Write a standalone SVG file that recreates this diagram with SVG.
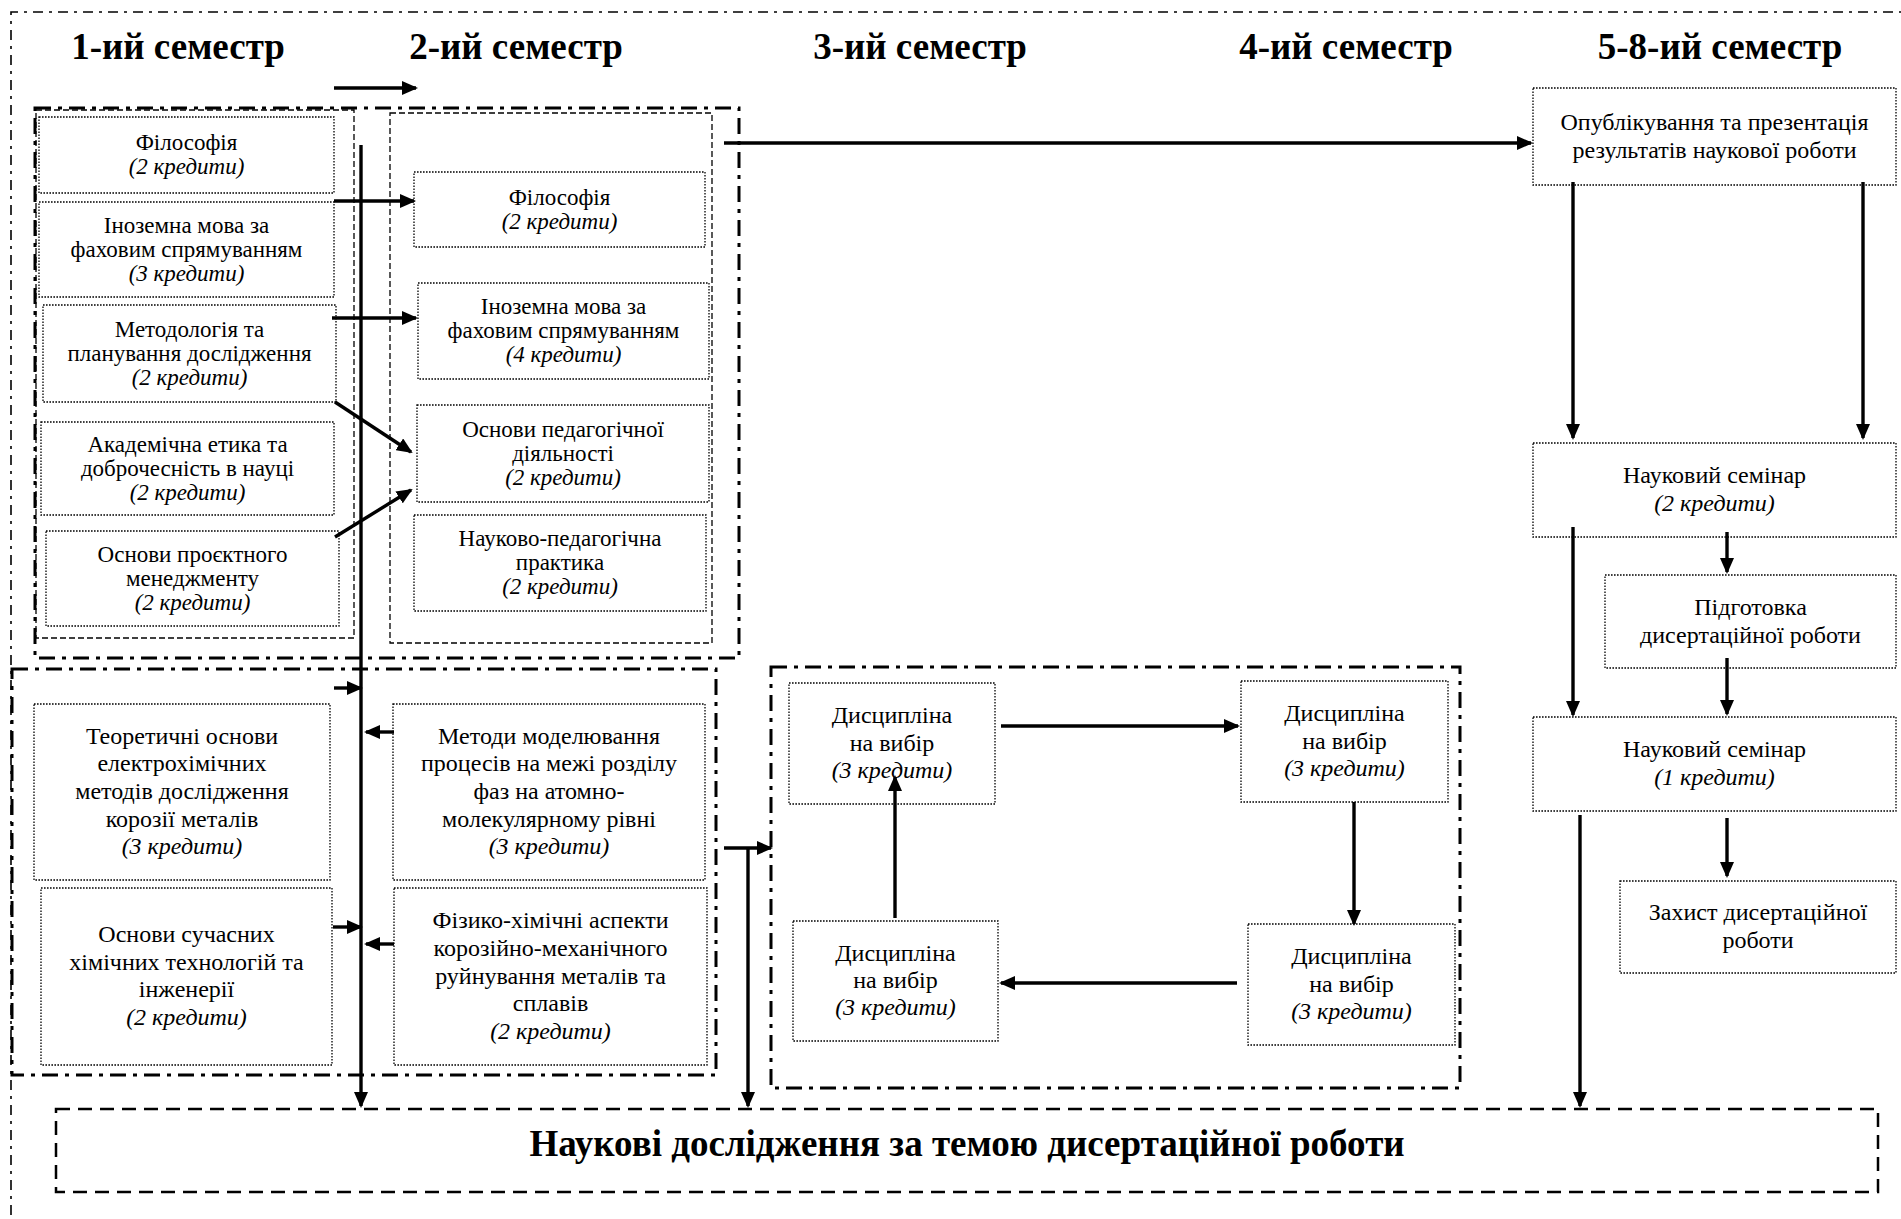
<svg xmlns="http://www.w3.org/2000/svg" width="1901" height="1219" viewBox="0 0 1901 1219">
<defs>
<marker id="ah" markerUnits="userSpaceOnUse" markerWidth="16" markerHeight="14" refX="14" refY="7" orient="auto">
<path d="M0,0 L16,7 L0,14 Z" fill="#000"/>
</marker>
<style>
text{font-family:"Liberation Serif","Times New Roman",serif;fill:#000;text-anchor:middle}
.t{font-size:23px}
.lw{font-size:24px}
.i{font-style:italic}
.h{font-size:37px;font-weight:bold}
.node{fill:#fff;stroke:#000;stroke-width:1.3;stroke-dasharray:1.6 1.4}
.col{fill:none;stroke:#000;stroke-width:1.3;stroke-dasharray:6 3}
.grp{fill:none;stroke:#000;stroke-width:3;stroke-dasharray:16 7 4 7}
.outer{fill:none;stroke:#000;stroke-width:1.6;stroke-dasharray:10 6 3 6}
.res{fill:none;stroke:#000;stroke-width:2.5;stroke-dasharray:14 8}
.c{fill:none;stroke:#000;stroke-width:3.4;marker-end:url(#ah)}
</style>
</defs>
<rect width="1901" height="1219" fill="#fff"/>
<path class="outer" d="M11,1240 V12 H1915"/>

<g id="titles">
<text class="h" x="178" y="59">1-ий семестр</text>
<text class="h" x="516" y="59">2-ий семестр</text>
<text class="h" x="920" y="59">3-ий семестр</text>
<text class="h" x="1346" y="59">4-ий семестр</text>
<text class="h" x="1720" y="59">5-8-ий семестр</text>
</g>

<g id="containers">
<rect class="grp" x="35" y="108" width="704" height="550"/>
<rect class="col" x="36" y="110" width="318" height="528"/>
<rect class="col" x="390" y="113" width="322" height="530"/>
<rect class="grp" x="12" y="669" width="704" height="406"/>
<rect class="grp" x="771" y="667" width="689" height="421"/>
</g>

<g id="n-fil1"><rect class="node" x="39" y="117" width="295" height="76"/>
<text class="t" x="186.5" y="150">Філософія</text><text class="t i" x="186.5" y="174">(2 кредити)</text></g>
<g id="n-mova1"><rect class="node" x="39" y="202" width="295" height="95"/>
<text class="t" x="186.5" y="232.5">Іноземна мова за</text><text class="t" x="186.5" y="256.5">фаховим спрямуванням</text><text class="t i" x="186.5" y="280.5">(3 кредити)</text></g>
<g id="n-metod"><rect class="node" x="43" y="305" width="293" height="97"/>
<text class="t" x="189.5" y="336.5">Методологія та</text><text class="t" x="189.5" y="360.5">планування дослідження</text><text class="t i" x="189.5" y="384.5">(2 кредити)</text></g>
<g id="n-etyka"><rect class="node" x="41" y="422" width="293" height="93"/>
<text class="t" x="187.5" y="451.5">Академічна етика та</text><text class="t" x="187.5" y="475.5">доброчесність в науці</text><text class="t i" x="187.5" y="499.5">(2 кредити)</text></g>
<g id="n-proekt"><rect class="node" x="46" y="531" width="293" height="95"/>
<text class="t" x="192.5" y="561.5">Основи проєктного</text><text class="t" x="192.5" y="585.5">менеджменту</text><text class="t i" x="192.5" y="609.5">(2 кредити)</text></g>

<g id="n-fil2"><rect class="node" x="414" y="172" width="291" height="75"/>
<text class="t" x="559.5" y="204.5">Філософія</text><text class="t i" x="559.5" y="228.5">(2 кредити)</text></g>
<g id="n-mova2"><rect class="node" x="418" y="283" width="291" height="96"/>
<text class="t" x="563.5" y="314">Іноземна мова за</text><text class="t" x="563.5" y="338">фаховим спрямуванням</text><text class="t i" x="563.5" y="362">(4 кредити)</text></g>
<g id="n-ped"><rect class="node" x="417" y="405" width="292" height="97"/>
<text class="t" x="563" y="436.5">Основи педагогічної</text><text class="t" x="563" y="460.5">діяльності</text><text class="t i" x="563" y="484.5">(2 кредити)</text></g>
<g id="n-prakt"><rect class="node" x="414" y="515" width="292" height="96"/>
<text class="t" x="560" y="546">Науково-педагогічна</text><text class="t" x="560" y="570">практика</text><text class="t i" x="560" y="594">(2 кредити)</text></g>

<g id="n-teor"><rect class="node" x="34" y="704" width="296" height="176"/>
<text class="lw" x="182" y="743.6">Теоретичні основи</text><text class="lw" x="182" y="771.3">електрохімічних</text><text class="lw" x="182" y="799">методів дослідження</text><text class="lw" x="182" y="826.7">корозії металів</text><text class="lw i" x="182" y="854.4">(3 кредити)</text></g>
<g id="n-tekh"><rect class="node" x="41" y="888" width="291" height="177"/>
<text class="lw" x="186.5" y="942">Основи сучасних</text><text class="lw" x="186.5" y="969.7">хімічних технологій та</text><text class="lw" x="186.5" y="997.3">інженерії</text><text class="lw i" x="186.5" y="1025">(2 кредити)</text></g>
<g id="n-model"><rect class="node" x="393" y="704" width="312" height="176"/>
<text class="lw" x="549" y="743.6">Методи моделювання</text><text class="lw" x="549" y="771.3">процесів на межі розділу</text><text class="lw" x="549" y="799">фаз на атомно-</text><text class="lw" x="549" y="826.7">молекулярному рівні</text><text class="lw i" x="549" y="854.4">(3 кредити)</text></g>
<g id="n-fiz"><rect class="node" x="394" y="888" width="313" height="177"/>
<text class="lw" x="550.5" y="928">Фізико-хімічні аспекти</text><text class="lw" x="550.5" y="955.8">корозійно-механічного</text><text class="lw" x="550.5" y="983.5">руйнування металів та</text><text class="lw" x="550.5" y="1011.2">сплавів</text><text class="lw i" x="550.5" y="1038.9">(2 кредити)</text></g>

<g id="n-d1"><rect class="node" x="789" y="683" width="206" height="121"/>
<text class="lw" x="892" y="723">Дисципліна</text><text class="lw" x="892" y="750.5">на вибір</text><text class="lw i" x="892" y="778">(3 кредити)</text></g>
<g id="n-d2"><rect class="node" x="1241" y="681" width="207" height="121"/>
<text class="lw" x="1344.5" y="721">Дисципліна</text><text class="lw" x="1344.5" y="748.5">на вибір</text><text class="lw i" x="1344.5" y="776">(3 кредити)</text></g>
<g id="n-d3"><rect class="node" x="793" y="921" width="205" height="120"/>
<text class="lw" x="895.5" y="960.7">Дисципліна</text><text class="lw" x="895.5" y="988">на вибір</text><text class="lw i" x="895.5" y="1015.3">(3 кредити)</text></g>
<g id="n-d4"><rect class="node" x="1248" y="924" width="207" height="121"/>
<text class="lw" x="1351.5" y="964">Дисципліна</text><text class="lw" x="1351.5" y="991.5">на вибір</text><text class="lw i" x="1351.5" y="1019">(3 кредити)</text></g>

<g id="n-publ"><rect class="node" x="1533" y="88" width="363" height="97"/>
<text class="lw" x="1714.5" y="129.5">Опублікування та презентація</text><text class="lw" x="1714.5" y="157.5">результатів наукової роботи</text></g>
<g id="n-sem2"><rect class="node" x="1533" y="443" width="363" height="94"/>
<text class="lw" x="1714.5" y="483">Науковий семінар</text><text class="lw i" x="1714.5" y="511">(2 кредити)</text></g>
<g id="n-pidg"><rect class="node" x="1605" y="575" width="291" height="93"/>
<text class="lw" x="1750.5" y="614.5">Підготовка</text><text class="lw" x="1750.5" y="642.5">дисертаційної роботи</text></g>
<g id="n-sem1"><rect class="node" x="1533" y="717" width="363" height="94"/>
<text class="lw" x="1714.5" y="757">Науковий семінар</text><text class="lw i" x="1714.5" y="785">(1 кредити)</text></g>
<g id="n-zakh"><rect class="node" x="1620" y="881" width="276" height="92"/>
<text class="lw" x="1758" y="920">Захист дисертаційної</text><text class="lw" x="1758" y="948">роботи</text></g>

<g id="n-research"><rect class="res" x="56" y="1109" width="1822" height="83"/>
<text class="h" x="967" y="1156">Наукові дослідження за темою дисертаційної роботи</text></g>

<g id="connectors">
<path class="c" d="M334,88 H416"/>
<path class="c" d="M361,145 V1106"/>
<path class="c" d="M334,201 H414"/>
<path class="c" d="M332,318 H416"/>
<path class="c" d="M335,402 L411,452"/>
<path class="c" d="M335,537 L411,490"/>
<path class="c" d="M724,143 H1531"/>
<path class="c" d="M334,688 H361"/>
<path class="c" d="M394,732 H366"/>
<path class="c" d="M333,927 H361"/>
<path class="c" d="M394,944 H366"/>
<path class="c" d="M724,848 H771"/>
<path class="c" d="M748,848 V1106"/>
<path class="c" d="M1001,726 H1238"/>
<path class="c" d="M1354,802 V924"/>
<path class="c" d="M1237,983 H1001"/>
<path class="c" d="M895,918 V777"/>
<path class="c" d="M1573,182 V438"/>
<path class="c" d="M1863,182 V438"/>
<path class="c" d="M1573,527 V715"/>
<path class="c" d="M1727,532 V572"/>
<path class="c" d="M1727,658 V714"/>
<path class="c" d="M1727,818 V876"/>
<path class="c" d="M1580,815 V1106"/>
</g>
</svg>
